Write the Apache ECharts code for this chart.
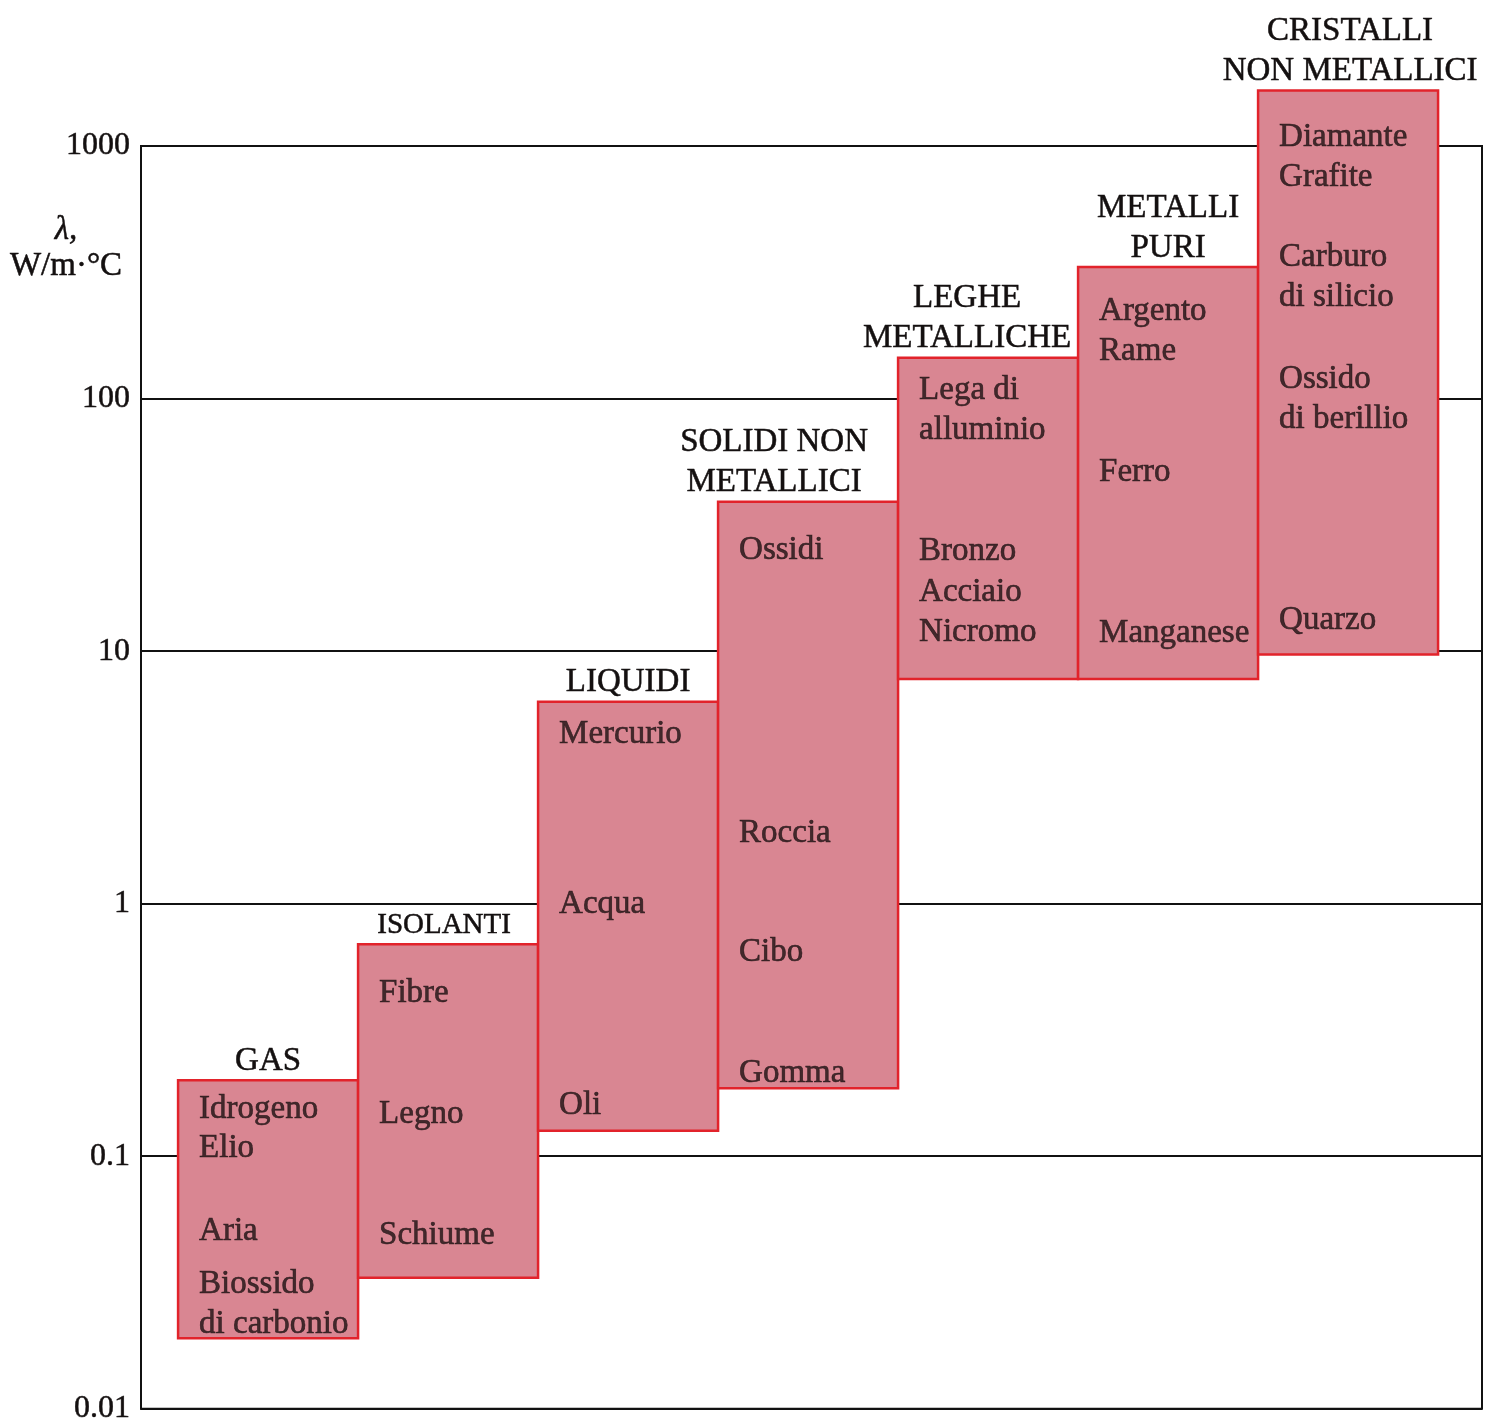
<!DOCTYPE html>
<html>
<head>
<meta charset="utf-8">
<script src="https://cdn.jsdelivr.net/npm/echarts@6/dist/echarts.min.js"></script>
<style>
html,body{margin:0;padding:0;background:#ffffff;}
#chart{width:1489px;height:1425px;}
</style>
</head>
<body>
<div id="chart"></div>
<script>
// ---- data ----
const categories = ['GAS', 'ISOLANTI', 'LIQUIDI', 'SOLIDI NON\nMETALLICI', 'LEGHE\nMETALLICHE', 'METALLI\nPURI', 'CRISTALLI\nNON METALLICI'];
const rangeLow  = [0.019, 0.033, 0.126, 0.186, 7.75, 7.75, 9.7];
const rangeHigh = [0.20, 0.69, 6.3, 39, 145, 332, 1660];

const materialNames = [
  'Idrogeno', 'Elio', 'Aria', 'Biossido\ndi carbonio',
  'Fibre', 'Legno', 'Schiume',
  'Mercurio', 'Acqua', 'Oli',
  'Ossidi', 'Roccia', 'Cibo', 'Gomma',
  'Lega di\nalluminio', 'Bronzo', 'Acciaio', 'Nicromo',
  'Argento', 'Rame', 'Ferro', 'Manganese',
  'Diamante', 'Grafite', 'Carburo\ndi silicio', 'Ossido\ndi berillio', 'Quarzo'
];
const materialGroup = [
  0, 0, 0, 0,
  1, 1, 1,
  2, 2, 2,
  3, 3, 3, 3,
  4, 4, 4, 4,
  5, 5, 5, 5,
  6, 6, 6, 6, 6
];
const materialValue = [
  0.158, 0.110, 0.052, 0.0267,
  0.453, 0.151, 0.050,
  4.8, 1.02, 0.163,
  25.8, 1.96, 0.66, 0.219,
  92, 25.5, 17.6, 12.2,
  227, 158, 52.4, 12.1,
  1114, 775, 309, 102, 13.6
];
const yTicks = [0.01, 0.1, 1, 10, 100, 1000];
const yTickLabels = ['0.01', '0.1', '1', '10', '100', '1000'];

// ---- layout / style (not data) ----
const SERIF = '"Liberation Serif", "DejaVu Serif", serif';
const titleShift = [0, -4, 0, -34, -21, 0, 2];
const titleSize = [33, 29, 33, 33, 33, 33, 33];
const BAR_FILL = '#d98692';
const BAR_STROKE = '#e2232b';
const INK = '#141010';

const chart = echarts.init(document.getElementById('chart'), null, {renderer: 'canvas'});

const option = {
  backgroundColor: '#ffffff',
  animation: false,
  grid: {
    left: 141, right: 7, top: 146, bottom: 14,
    show: true, borderColor: '#111', borderWidth: 2, backgroundColor: 'transparent'
  },
  xAxis: {
    type: 'value', min: -0.206, max: 7.244,
    show: false
  },
  yAxis: {
    type: 'log', logBase: 10, min: 0.01, max: 1000,
    axisLine: {show: true, onZero: false, lineStyle: {color: '#111', width: 2}},
    axisTick: {show: false},
    splitLine: {show: true, lineStyle: {color: '#111', width: 2}},
    axisLabel: {
      fontFamily: SERIF, fontSize: 32, color: INK, margin: 11,
      textBorderColor: INK, textBorderWidth: 0.5,
      formatter: function (v) {
        let best = 0;
        for (let k = 0; k < yTicks.length; k++) {
          if (Math.abs(Math.log10(yTicks[k]) - Math.log10(v)) < Math.abs(Math.log10(yTicks[best]) - Math.log10(v))) best = k;
        }
        return yTickLabels[best];
      }
    }
  },
  graphic: [{
    type: 'text',
    x: 66, y: 212,
    style: {
      text: '{l|λ,}\nW/m·°C',
      rich: {l: {fontFamily: SERIF, fontStyle: 'italic', fontSize: 33, lineHeight: 36, fill: INK}},
      fontFamily: SERIF, fontSize: 33, lineHeight: 36, fill: INK, align: 'center',
      stroke: INK, lineWidth: 0.5
    }
  }],
  series: [
    {
      type: 'custom',
      clip: false,
      data: categories.map((c, i) => [i, rangeLow[i], rangeHigh[i]]),
      encode: {x: 0, y: [1, 2]},
      renderItem: function (params, api) {
        const i = api.value(0);
        const lo = api.value(1);
        const hi = api.value(2);
        const pTop = api.coord([i, hi]);
        const pBot = api.coord([i + 1, lo]);
        const x0 = pTop[0], x1 = pBot[0];
        const y0 = pTop[1], y1 = pBot[1];
        return {
          type: 'group',
          children: [
            {
              type: 'rect',
              shape: {x: x0, y: y0, width: x1 - x0, height: y1 - y0},
              style: {fill: BAR_FILL, stroke: BAR_STROKE, lineWidth: 2.5}
            },
            {
              type: 'text',
              style: {
                text: categories[i],
                x: (x0 + x1) / 2 + titleShift[i],
                y: y0 + 1,
                align: 'center', verticalAlign: 'bottom',
                fontFamily: SERIF, fontSize: titleSize[i], lineHeight: 40,
                fill: INK, stroke: INK, lineWidth: 0.5
              }
            }
          ]
        };
      },
      z: 2
    },
    {
      type: 'scatter',
      clip: false,
      symbolSize: 0,
      data: materialNames.map((n, k) => [materialGroup[k], materialValue[k], n]),
      label: {
        show: true,
        position: 'right',
        distance: 21,
        offset: [0, 3],
        formatter: p => p.data[2],
        fontFamily: SERIF, fontSize: 33, lineHeight: 40,
        color: '#1c1012', textBorderColor: '#1c1012', textBorderWidth: 0.6
      },
      z: 3
    }
  ]
};
chart.setOption(option);
</script>
</body>
</html>
